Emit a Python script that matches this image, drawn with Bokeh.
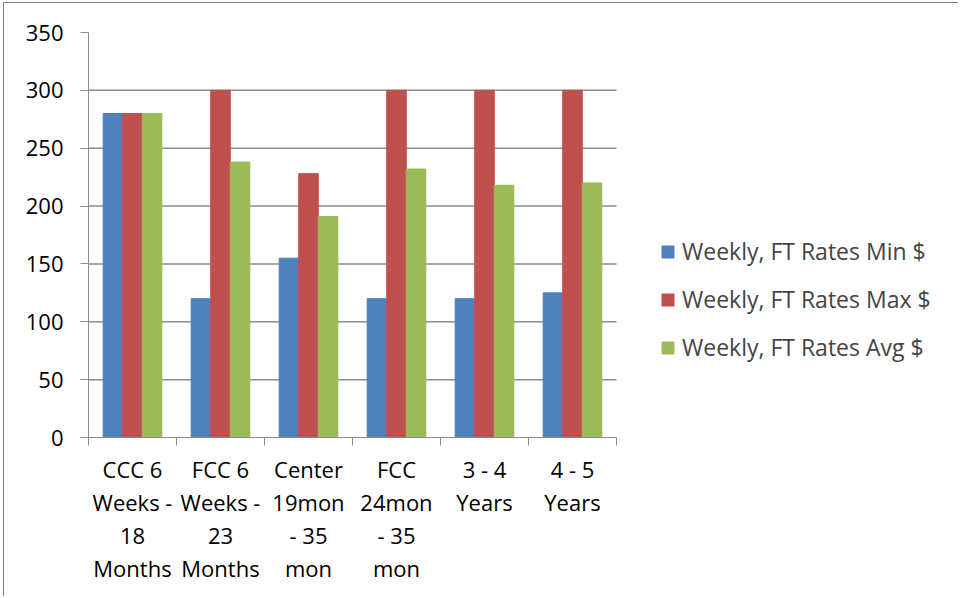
from bokeh.plotting import figure
from bokeh.models import (ColumnDataSource, Range1d, LinearAxis, FixedTicker,
                          Legend, LegendItem)
from bokeh.transform import dodge
from bokeh.embed import file_html
from bokeh.resources import INLINE

categories = ["CCC 6 Weeks - 18 Months", "FCC 6 Weeks - 23 Months", "Center 19mon - 35 mon",
              "FCC 24mon - 35 mon", "3 - 4 Years", "4 - 5 Years"]
tick_labels = ["CCC 6\nWeeks -\n18\nMonths", "FCC 6\nWeeks -\n23\nMonths", "Center\n19mon\n- 35\nmon",
               "FCC\n24mon\n- 35\nmon", "3 - 4\nYears", "4 - 5\nYears"]
min_rates = [280, 120, 155, 120, 120, 125]
max_rates = [280, 300, 228, 300, 300, 300]
avg_rates = [280, 238, 191, 232, 218, 220]
series_names = ["Weekly, FT Rates Min $", "Weekly, FT Rates Max $", "Weekly, FT Rates Avg $"]
colors = ["#4F81BD", "#C0504D", "#9BBB59"]
y_ticks = [0, 50, 100, 150, 200, 250, 300, 350]

FONT = "Open Sans"
GRID = "#8C8C8C"

n = len(categories)
centers = [i + 0.5 for i in range(n)]
source = ColumnDataSource(dict(cat=categories, x=centers, mn=min_rates, mx=max_rates, av=avg_rates))

# layout: plot frame spans the whole width; the bars use the left part of it,
# the legend sits on the right part
W, H = 955, 594
ML, MT, MR, MB = 84, 29, 4, 160
frame_w = W - ML - MR
bars_w = 528
x_end = n * frame_w / bars_w

p = figure(width=W, height=H, output_backend="svg", toolbar_location=None,
           x_range=Range1d(0, x_end), y_range=Range1d(0, y_ticks[-1]),
           x_axis_location=None, y_axis_location=None,
           min_border_left=ML, min_border_top=MT, min_border_right=MR, min_border_bottom=MB)
p.outline_line_color = None
p.styles = {"border-left": "1px solid #808080", "border-top": "1px solid #808080",
            "margin-left": "3px", "margin-top": "2px"}
p.xgrid.grid_line_color = None
p.ygrid.grid_line_color = None

# horizontal gridlines across the category area only
grid_vals = y_ticks[1:-1]
p.segment(x0=[0] * len(grid_vals), x1=[n] * len(grid_vals), y0=grid_vals, y1=grid_vals,
          line_color=GRID, line_width=1.5, level="underlay")

bw = 1.0 / 4.5
renderers = []
for i, (field, col) in enumerate(zip(["mn", "mx", "av"], colors)):
    r = p.vbar(x=dodge("x", (i - 1) * bw), top=field, width=bw,
               source=source, fill_color=col, line_color=col)
    renderers.append(r)

# y axis
yaxis = LinearAxis(ticker=FixedTicker(ticks=y_ticks))
yaxis.axis_line_color = GRID
yaxis.major_tick_line_color = GRID
yaxis.major_tick_in = 0
yaxis.major_tick_out = 8
yaxis.minor_tick_line_color = None
yaxis.major_label_text_font = FONT
yaxis.major_label_text_font_size = "22px"
yaxis.major_label_text_color = "#000000"
yaxis.major_label_standoff = 17
p.add_layout(yaxis, "left")

# x axis: labels at category centres, dividers between categories
xaxis = LinearAxis(ticker=FixedTicker(ticks=centers, minor_ticks=list(range(n + 1))),
                   bounds=(0, n))
xaxis.major_label_overrides = {c: t for c, t in zip(centers, tick_labels)}
xaxis.axis_line_color = GRID
xaxis.major_tick_line_color = None
xaxis.major_tick_out = 8
xaxis.major_tick_in = 0
xaxis.minor_tick_line_color = GRID
xaxis.minor_tick_out = 8
xaxis.minor_tick_in = 0
xaxis.major_label_text_font = FONT
xaxis.major_label_text_font_size = "22px"
xaxis.major_label_text_color = "#000000"
xaxis.major_label_text_line_height = 1.11
xaxis.major_label_standoff = 8
p.add_layout(xaxis, "below")

legend = Legend(items=[LegendItem(label=s, renderers=[r]) for s, r in zip(series_names, renderers)],
                location=(bars_w + 44, 74), label_text_font=FONT, label_text_font_size="23px",
                glyph_width=15, glyph_height=15, label_standoff=7, spacing=16,
                padding=0, margin=0, border_line_color=None, background_fill_alpha=0)
p.add_layout(legend, "center")

open("out.html", "w").write(file_html(p, INLINE))
